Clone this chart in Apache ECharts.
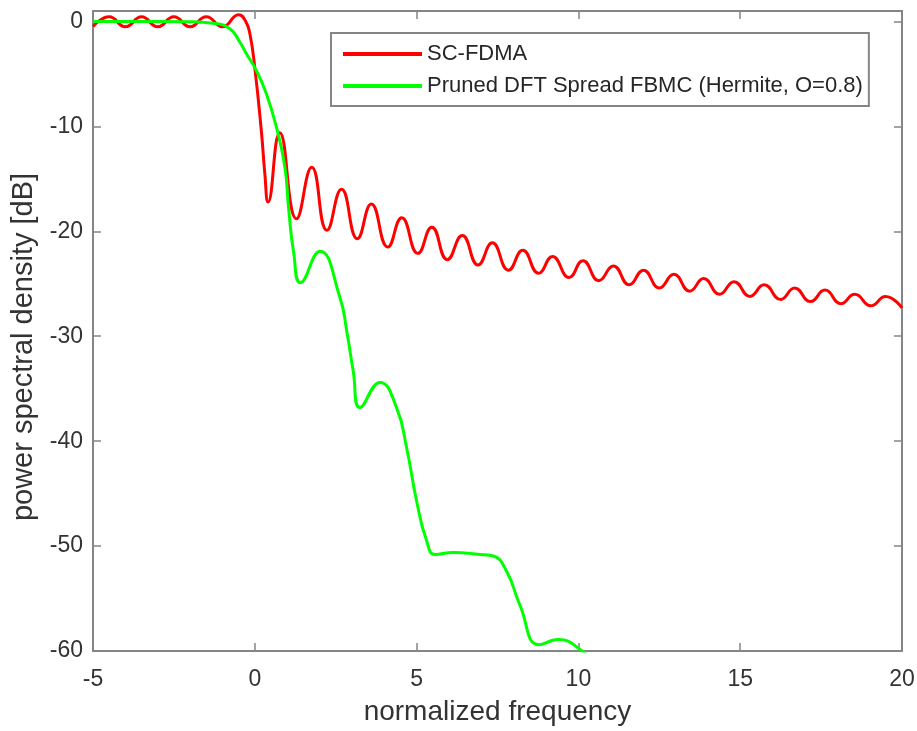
<!DOCTYPE html>
<html>
<head>
<meta charset="utf-8">
<script src="https://cdn.jsdelivr.net/npm/echarts@6/dist/echarts.min.js"></script>
<style>
  html, body { margin: 0; padding: 0; background: #fff; }
  #chart { width: 917px; height: 731px; }
</style>
</head>
<body>
<div id="chart"></div>
<script>
// Power spectral density curves (normalized frequency vs dB)
const seriesNames = ['SC-FDMA', 'Pruned DFT Spread FBMC (Hermite, O=0.8)'];

const freqScFdma = [
  -5, -4.5, -4, -3.5, -3, -2.5, -2, -1.5, -1, -0.5,
  -0.28, -0.15, 0, 0.21, 0.31, 0.41, 0.77, 1.29, 1.76,
  2.23, 2.68, 3.17, 3.60, 4.11, 4.54, 5.04, 5.47, 5.95, 6.41,
  6.90, 7.34, 7.84, 8.28, 8.77, 9.20, 9.71, 10.14, 10.63, 11.08,
  11.57, 12.01, 12.50, 12.95, 13.44, 13.87, 14.36, 14.81, 15.30, 15.74,
  16.25, 16.68, 17.17, 17.62, 18.11, 18.54, 19.04, 19.49, 20
];
const psdScFdma = [
  -0.48, 0.45, -0.5, 0.45, -0.5, 0.45, -0.5, 0.45, -0.5, 0.65,
  0.0, -1.2, -4.4, -10.7, -14.5, -17.2, -10.6, -18.8, -13.9,
  -19.9, -16.0, -20.7, -17.4, -21.5, -18.7, -22.1, -19.6, -22.7, -20.4,
  -23.2, -21.1, -23.7, -21.8, -24.0, -22.4, -24.4, -22.8, -24.7, -23.3,
  -25.1, -23.7, -25.4, -24.1, -25.7, -24.5, -26.0, -24.8, -26.2, -25.1,
  -26.5, -25.4, -26.7, -25.6, -26.9, -26.0, -27.1, -26.2, -27.3
];

const freqFbmc = [
  -5, -3, -2, -1.29, -0.77, -0.46, -0.26, 0.05, 0.36, 0.67,
  0.93, 1.05, 1.2, 1.41, 2.01, 2.63, 2.84, 3.04, 3.25, 3.87,
  4.38, 4.69, 5.00, 5.31, 5.57, 6.13, 6.96, 7.37, 7.78, 8.19,
  8.78, 9.38, 10.10, 10.4
];
const psdFbmc = [
  0, 0, -0.02, -0.16, -0.7, -1.98, -3.08, -4.68, -6.9, -10.09,
  -13.9, -18.0, -22.0, -24.9, -21.9, -26.3, -29.5, -33.3, -36.8, -34.4,
  -36.8, -40.6, -45.7, -49.5, -50.8, -50.6, -50.8, -50.95, -52.4, -55.6,
  -59.4, -58.9, -59.95, -61
];

const xTicks = [-5, 0, 5, 10, 15, 20];
const yTicks = [-60, -50, -40, -30, -20, -10, 0];
const yTop = 1;

const pairs = (xs, ys) => xs.map((x, i) => [x, ys[i]]);

const frameColor = '#858585';
const textColor = '#333333';
const fontFamily = '"Liberation Sans", Arial, Helvetica, sans-serif';

const xStep = xTicks[1] - xTicks[0];
const yStep = yTicks[1] - yTicks[0];

const xAxisBase = {
  type: 'value',
  min: xTicks[0],
  max: xTicks[xTicks.length - 1],
  interval: xStep,
  splitLine: { show: false },
  axisLine: { show: true, onZero: false, lineStyle: { color: frameColor, width: 2 } },
  axisTick: { show: true, inside: true, length: 8, lineStyle: { color: frameColor, width: 1.5 } }
};
const yAxisBase = {
  type: 'value',
  min: yTicks[0],
  max: yTop,
  interval: yStep,
  splitLine: { show: false },
  axisLine: { show: true, onZero: false, lineStyle: { color: frameColor, width: 2 } },
  axisTick: { show: true, inside: true, length: 8, lineStyle: { color: frameColor, width: 1.5 } }
};

const chart = echarts.init(document.getElementById('chart'), null, { renderer: 'canvas' });

chart.setOption({
  animation: false,
  backgroundColor: '#ffffff',
  textStyle: { fontFamily: fontFamily },
  grid: {
    left: 93, top: 11, width: 809, height: 640,
    containLabel: false, outerBoundsMode: 'none'
  },
  legend: {
    orient: 'vertical',
    left: 331, top: 33,
    padding: [10, 6, 9, 12],
    icon: 'rect',
    itemWidth: 79, itemHeight: 4, itemGap: 10,
    backgroundColor: '#ffffff',
    borderColor: frameColor, borderWidth: 2,
    textStyle: { fontSize: 22, lineHeight: 22, color: '#262626', fontFamily: fontFamily },
    data: seriesNames
  },
  xAxis: [
    Object.assign({}, xAxisBase, {
      position: 'bottom',
      name: 'normalized frequency',
      nameLocation: 'middle',
      nameGap: 47,
      nameTextStyle: { fontSize: 28, color: textColor, fontFamily: fontFamily },
      axisLabel: {
        show: true, margin: 17, fontSize: 23, color: textColor, fontFamily: fontFamily,
        formatter: v => (xTicks.includes(v) ? String(v) : '')
      }
    }),
    Object.assign({}, xAxisBase, { position: 'top', axisLabel: { show: false } })
  ],
  yAxis: [
    Object.assign({}, yAxisBase, {
      position: 'left',
      name: 'power spectral density [dB]',
      nameLocation: 'middle',
      nameGap: 52,
      nameRotate: 90,
      nameTextStyle: { fontSize: 29, color: textColor, fontFamily: fontFamily, padding: [0, 32, 0, 0] },
      axisLabel: {
        show: true, margin: 10, fontSize: 23, color: textColor, fontFamily: fontFamily,
        padding: [8, 0, 0, 0], showMaxLabel: false,
        formatter: v => (yTicks.includes(v) ? String(v) : '')
      }
    }),
    Object.assign({}, yAxisBase, { position: 'right', axisLabel: { show: false } })
  ],
  series: [
    {
      name: seriesNames[0],
      type: 'line',
      xAxisIndex: 0, yAxisIndex: 0,
      data: pairs(freqScFdma, psdScFdma),
      smooth: 0.5,
      symbol: 'none',
      clip: true,
      lineStyle: { color: '#ff0000', width: 3 },
      itemStyle: { color: '#ff0000' }
    },
    {
      name: seriesNames[1],
      type: 'line',
      xAxisIndex: 0, yAxisIndex: 0,
      data: pairs(freqFbmc, psdFbmc),
      smooth: 0.5,
      symbol: 'none',
      clip: true,
      lineStyle: { color: '#00ff00', width: 3 },
      itemStyle: { color: '#00ff00' }
    }
  ]
});
</script>
</body>
</html>
